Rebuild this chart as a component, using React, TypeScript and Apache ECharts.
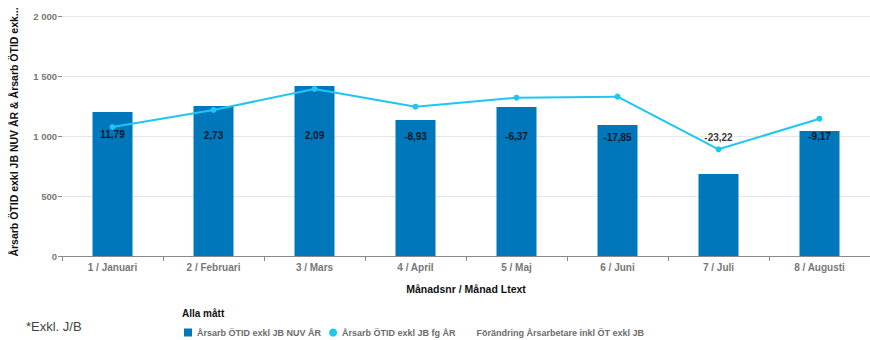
import React, { useEffect, useRef } from "react";
import * as echarts from "echarts";

const categories = ["1 / Januari", "2 / Februari", "3 / Mars", "4 / April", "5 / Maj", "6 / Juni", "7 / Juli", "8 / Augusti"];
const nuvAr = [1200, 1250, 1417, 1133, 1242, 1092, 683, 1042];
const fgAr = [1075, 1217, 1392, 1244, 1319, 1328, 889, 1144];
const forandring = [11.79, 2.73, 2.09, -8.93, -6.37, -17.85, -23.22, -9.17];
const yTicks = [0, 500, 1000, 1500, 2000];

const seriesNames = ["Årsarb ÖTID exkl JB NUV ÅR", "Årsarb ÖTID exkl JB fg ÅR", "Förändring Årsarbetare inkl ÖT exkl JB"];

const FONT = "Liberation Sans, Arial, sans-serif";

export default function App() {
  const ref = useRef<HTMLDivElement>(null);
  useEffect(() => {
    const chart = echarts.init(ref.current!, null, { renderer: "svg" });
    const fmt = (v: number) => String(v).replace(/\B(?=(\d{3})+(?!\d))/g, " ");
    chart.setOption({
      animation: false,
      textStyle: { fontFamily: FONT },
      grid: { left: 62, top: 16, width: 816, height: 240, containLabel: false },
      legend: {
        left: 184,
        top: 328,
        padding: 0,
        itemWidth: 8,
        itemHeight: 8,
        itemGap: 8,
        textStyle: { fontFamily: FONT, fontSize: 9, fontWeight: "bold", color: "#6b6b6b" },
        data: [
          { name: seriesNames[0], icon: "rect" },
          { name: seriesNames[1], icon: "circle" },
          { name: seriesNames[2], icon: "rect", itemStyle: { opacity: 0, color: "transparent" } },
        ],
      },
      graphic: [
        { type: "text", left: 182, top: 308, style: { text: "Alla mått", fontFamily: FONT, fontSize: 10, fontWeight: "bold", fill: "#111" } },
        { type: "text", left: 26, top: 320, style: { text: "*Exkl. J/B", fontFamily: FONT, fontSize: 13, fill: "#444" } },
        {
          type: "text",
          x: 14,
          y: 132,
          rotation: Math.PI / 2,
          style: {
            text: "Årsarb ÖTID exkl JB NUV ÅR & Årsarb ÖTID exk...",
            fontFamily: FONT,
            fontSize: 10.5,
            fontWeight: "bold",
            fill: "#111",
            align: "center",
            verticalAlign: "middle",
          },
        },
      ],
      xAxis: {
        type: "category",
        data: categories,
        name: "Månadsnr / Månad Ltext",
        nameLocation: "middle",
        nameGap: 27,
        nameTextStyle: { fontFamily: FONT, fontSize: 10.5, fontWeight: "bold", color: "#111" },
        axisLine: { lineStyle: { color: "#8a8a8a", width: 1 } },
        axisTick: { show: true, length: 5, lineStyle: { color: "#8a8a8a" } },
        axisLabel: { fontFamily: FONT, fontSize: 10, fontWeight: "bold", color: "#777", margin: 6 },
      },
      yAxis: [
        {
          type: "value",
          min: 0,
          max: 2000,
          interval: 500,
          axisLine: { show: false },
          axisTick: { show: true, length: 4, lineStyle: { color: "#8a8a8a" } },
          splitLine: { lineStyle: { color: "#e6e6e6", width: 1 } },
          axisLabel: { fontFamily: FONT, fontSize: 9.5, fontWeight: "bold", color: "#777", margin: 5, formatter: (v: number) => fmt(v) },
        },
        { type: "value", min: -1400, max: 1400, show: false, splitLine: { show: false } },
      ],
      series: [
        {
          name: seriesNames[0],
          type: "bar",
          data: nuvAr,
          barWidth: 40,
          itemStyle: { color: "#0077BB" },
          z: 2,
        },
        {
          name: seriesNames[1],
          type: "line",
          data: fgAr,
          symbol: "circle",
          symbolSize: 6,
          lineStyle: { color: "#1FC6F2", width: 2 },
          itemStyle: { color: "#1FC6F2" },
          z: 3,
        },
        {
          name: seriesNames[2],
          type: "scatter",
          yAxisIndex: 1,
          data: forandring,
          symbolSize: 2,
          itemStyle: { color: "rgba(0,0,0,0)" },
          label: {
            show: true,
            position: "inside",
            fontFamily: FONT,
            fontSize: 10,
            fontWeight: "bold",
            color: "#000",
            formatter: (p: any) => String(p.value).replace(".", ","),
          },
          z: 5,
        },
      ],
    });
    return () => chart.dispose();
  }, []);
  return <div ref={ref} style={{ width: 870, height: 340, position: "absolute", left: 0, top: 0 }} />;
}
